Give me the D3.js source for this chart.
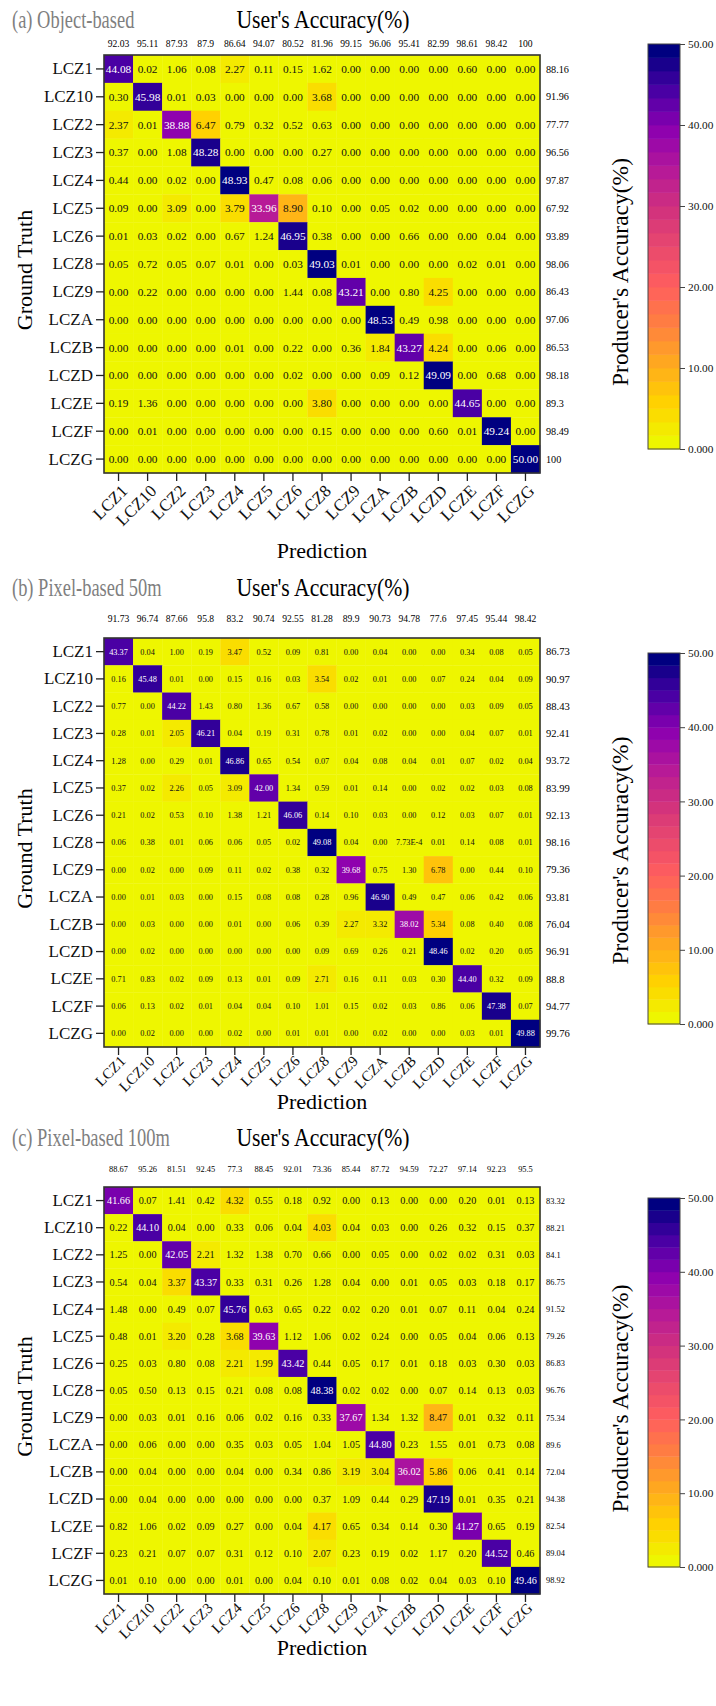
<!DOCTYPE html>
<html><head><meta charset="utf-8">
<script src="https://cdn.jsdelivr.net/npm/d3@7/dist/d3.min.js"></script>
<style>
html,body{margin:0;padding:0;background:#fff;}
text{font-family:"Liberation Serif","Times New Roman",serif;}
</style></head>
<body><svg id="chart" width="716" height="1706"></svg>
<script>
const categories = ["LCZ1","LCZ10","LCZ2","LCZ3","LCZ4","LCZ5","LCZ6","LCZ8","LCZ9","LCZA","LCZB","LCZD","LCZE","LCZF","LCZG"];
const panelTitles = ["(a) Object-based","(b) Pixel-based 50m","(c) Pixel-based 100m"];
const colorbarTicks = [0,10,20,30,40,50];
const colorbarTickLabels = ["0.000","10.00","20.00","30.00","40.00","50.00"];

const matrixA = [
[44.08,0.02,1.06,0.08,2.27,0.11,0.15,1.62,0.00,0.00,0.00,0.00,0.60,0.00,0.00],
[0.30,45.98,0.01,0.03,0.00,0.00,0.00,3.68,0.00,0.00,0.00,0.00,0.00,0.00,0.00],
[2.37,0.01,38.88,6.47,0.79,0.32,0.52,0.63,0.00,0.00,0.00,0.00,0.00,0.00,0.00],
[0.37,0.00,1.08,48.28,0.00,0.00,0.00,0.27,0.00,0.00,0.00,0.00,0.00,0.00,0.00],
[0.44,0.00,0.02,0.00,48.93,0.47,0.08,0.06,0.00,0.00,0.00,0.00,0.00,0.00,0.00],
[0.09,0.00,3.09,0.00,3.79,33.96,8.90,0.10,0.00,0.05,0.02,0.00,0.00,0.00,0.00],
[0.01,0.03,0.02,0.00,0.67,1.24,46.95,0.38,0.00,0.00,0.66,0.00,0.00,0.04,0.00],
[0.05,0.72,0.05,0.07,0.01,0.00,0.03,49.03,0.01,0.00,0.00,0.00,0.02,0.01,0.00],
[0.00,0.22,0.00,0.00,0.00,0.00,1.44,0.08,43.21,0.00,0.80,4.25,0.00,0.00,0.00],
[0.00,0.00,0.00,0.00,0.00,0.00,0.00,0.00,0.00,48.53,0.49,0.98,0.00,0.00,0.00],
[0.00,0.00,0.00,0.00,0.01,0.00,0.22,0.00,0.36,1.84,43.27,4.24,0.00,0.06,0.00],
[0.00,0.00,0.00,0.00,0.00,0.00,0.02,0.00,0.00,0.09,0.12,49.09,0.00,0.68,0.00],
[0.19,1.36,0.00,0.00,0.00,0.00,0.00,3.80,0.00,0.00,0.00,0.00,44.65,0.00,0.00],
[0.00,0.01,0.00,0.00,0.00,0.00,0.00,0.15,0.00,0.00,0.00,0.60,0.01,49.24,0.00],
[0.00,0.00,0.00,0.00,0.00,0.00,0.00,0.00,0.00,0.00,0.00,0.00,0.00,0.00,50.00]];
const usersAccA = [92.03,95.11,87.93,87.9,86.64,94.07,80.52,81.96,99.15,96.06,95.41,82.99,98.61,98.42,100];
const producersAccA = [88.16,91.96,77.77,96.56,97.87,67.92,93.89,98.06,86.43,97.06,86.53,98.18,89.3,98.49,100];

const matrixB = [
[43.37,0.04,1.00,0.19,3.47,0.52,0.09,0.81,0.00,0.04,0.00,0.00,0.34,0.08,0.05],
[0.16,45.48,0.01,0.00,0.15,0.16,0.03,3.54,0.02,0.01,0.00,0.07,0.24,0.04,0.09],
[0.77,0.00,44.22,1.43,0.80,1.36,0.67,0.58,0.00,0.00,0.00,0.00,0.03,0.09,0.05],
[0.28,0.01,2.05,46.21,0.04,0.19,0.31,0.78,0.01,0.02,0.00,0.00,0.04,0.07,0.01],
[1.28,0.00,0.29,0.01,46.86,0.65,0.54,0.07,0.04,0.08,0.04,0.01,0.07,0.02,0.04],
[0.37,0.02,2.26,0.05,3.09,42.00,1.34,0.59,0.01,0.14,0.00,0.02,0.02,0.03,0.08],
[0.21,0.02,0.53,0.10,1.38,1.21,46.06,0.14,0.10,0.03,0.00,0.12,0.03,0.07,0.01],
[0.06,0.38,0.01,0.06,0.06,0.05,0.02,49.08,0.04,0.00,0.000773,0.01,0.14,0.08,0.01],
[0.00,0.02,0.00,0.09,0.11,0.02,0.38,0.32,39.68,0.75,1.30,6.78,0.00,0.44,0.10],
[0.00,0.01,0.03,0.00,0.15,0.08,0.08,0.28,0.96,46.90,0.49,0.47,0.06,0.42,0.06],
[0.00,0.03,0.00,0.00,0.01,0.00,0.06,0.39,2.27,3.32,38.02,5.34,0.08,0.40,0.08],
[0.00,0.02,0.00,0.00,0.00,0.00,0.00,0.09,0.69,0.26,0.21,48.46,0.02,0.20,0.05],
[0.71,0.83,0.02,0.09,0.13,0.01,0.09,2.71,0.16,0.11,0.03,0.30,44.40,0.32,0.09],
[0.06,0.13,0.02,0.01,0.04,0.04,0.10,1.01,0.15,0.02,0.03,0.86,0.06,47.38,0.07],
[0.00,0.02,0.00,0.00,0.02,0.00,0.01,0.01,0.00,0.02,0.00,0.00,0.03,0.01,49.88]];
const usersAccB = [91.73,96.74,87.66,95.8,83.2,90.74,92.55,81.28,89.9,90.73,94.78,77.6,97.45,95.44,98.42];
const producersAccB = [86.73,90.97,88.43,92.41,93.72,83.99,92.13,98.16,79.36,93.81,76.04,96.91,88.8,94.77,99.76];

const matrixC = [
[41.66,0.07,1.41,0.42,4.32,0.55,0.18,0.92,0.00,0.13,0.00,0.00,0.20,0.01,0.13],
[0.22,44.10,0.04,0.00,0.33,0.06,0.04,4.03,0.04,0.03,0.00,0.26,0.32,0.15,0.37],
[1.25,0.00,42.05,2.21,1.32,1.38,0.70,0.66,0.00,0.05,0.00,0.02,0.02,0.31,0.03],
[0.54,0.04,3.37,43.37,0.33,0.31,0.26,1.28,0.04,0.00,0.01,0.05,0.03,0.18,0.17],
[1.48,0.00,0.49,0.07,45.76,0.63,0.65,0.22,0.02,0.20,0.01,0.07,0.11,0.04,0.24],
[0.48,0.01,3.20,0.28,3.68,39.63,1.12,1.06,0.02,0.24,0.00,0.05,0.04,0.06,0.13],
[0.25,0.03,0.80,0.08,2.21,1.99,43.42,0.44,0.05,0.17,0.01,0.18,0.03,0.30,0.03],
[0.05,0.50,0.13,0.15,0.21,0.08,0.08,48.38,0.02,0.02,0.00,0.07,0.14,0.13,0.03],
[0.00,0.03,0.01,0.16,0.06,0.02,0.16,0.33,37.67,1.34,1.32,8.47,0.01,0.32,0.11],
[0.00,0.06,0.00,0.00,0.35,0.03,0.05,1.04,1.05,44.80,0.23,1.55,0.01,0.73,0.08],
[0.00,0.04,0.00,0.00,0.04,0.00,0.34,0.86,3.19,3.04,36.02,5.86,0.06,0.41,0.14],
[0.00,0.04,0.00,0.00,0.00,0.00,0.00,0.37,1.09,0.44,0.29,47.19,0.01,0.35,0.21],
[0.82,1.06,0.02,0.09,0.27,0.00,0.04,4.17,0.65,0.34,0.14,0.30,41.27,0.65,0.19],
[0.23,0.21,0.07,0.07,0.31,0.12,0.10,2.07,0.23,0.19,0.02,1.17,0.20,44.52,0.46],
[0.01,0.10,0.00,0.00,0.01,0.00,0.04,0.10,0.01,0.08,0.02,0.04,0.03,0.10,49.46]];
const usersAccC = [88.67,95.26,81.51,92.45,77.3,88.45,92.01,73.36,85.44,87.72,94.59,72.27,97.14,92.23,95.5];
const producersAccC = [83.32,88.21,84.1,86.75,91.52,79.26,86.83,96.76,75.34,89.6,72.04,94.38,82.54,89.04,98.92];

// ---------- colour map (stepped) ----------
const NB = 30, VMAX = 50;
const paletteColors = ["#eef600","#ffd200","#ffaa1e","#ff8040","#ff5e5e","#e8486e","#d0307e","#b4189a","#8c00b0","#4800a4","#000080"];
const palette = d3.scaleLinear().domain(d3.range(paletteColors.length).map(i=>i/(paletteColors.length-1))).range(paletteColors).interpolate(d3.interpolateRgb);
const bandOf = v => Math.max(0, Math.min(NB-1, Math.floor(v/VMAX*NB)));
const colorOf = v => palette(bandOf(v)/(NB-1));
const fmtCell = v => (v > 0 && v < 0.005) ? d3.format(".2e")(v).toUpperCase().replace(/E-0*/,"E-") : d3.format(".2f")(v);

const svg = d3.select("#chart");
const X0 = 104, X1 = 540;
const panels = [
  {m: matrixA, ua: usersAccA, pa: producersAccA, top: 55, H: 418, uaY: 44, titleY: 28, predGap: 85,
   tickF: 17, tickT: "translate(10,19) rotate(-45)", cb: [44, 449], cell: 11.3, uaF: 9.6, paF: 10.2},
  {m: matrixB, ua: usersAccB, pa: producersAccB, top: 638, H: 409, uaY: 619, titleY: 596, predGap: 62,
   tickF: 15, tickT: "translate(8,15) rotate(-45)", cb: [653, 1024], cell: 8.3, uaF: 9.6, paF: 10.6},
  {m: matrixC, ua: usersAccC, pa: producersAccC, top: 1187, H: 407, uaY: 1169, titleY: 1146, predGap: 61,
   tickF: 15, tickT: "translate(8,15) rotate(-45)", cb: [1198, 1567], cell: 10.2, uaF: 8.4, paF: 8.4}
];

panels.forEach((p, pi) => {
  const top = p.top, H = p.H;
  const g = svg.append("g");
  const x = d3.scaleBand().domain(categories).range([X0, X1]);
  const y = d3.scaleBand().domain(categories).range([top, top + H]);

  // titles
  g.append("text").attr("transform", `translate(12,${p.titleY}) scale(0.71,1)`)
    .attr("font-size", 26).attr("fill", "#7f7f7f").text(panelTitles[pi]);
  g.append("text").attr("transform", `translate(${(X0+X1)/2+1},${p.titleY}) scale(0.835,1)`)
    .attr("font-size", 26).attr("text-anchor", "middle").attr("fill", "#000").text("User's Accuracy(%)");

  // cells
  const cells = [];
  p.m.forEach((row, ri) => row.forEach((v, ci) => cells.push({r: categories[ri], c: categories[ci], v})));
  g.selectAll("rect.cell").data(cells).join("rect").attr("class","cell")
    .attr("x", d => x(d.c)).attr("y", d => y(d.r))
    .attr("width", x.bandwidth()+0.3).attr("height", y.bandwidth()+0.3)
    .attr("fill", d => colorOf(d.v));
  g.selectAll("text.cell").data(cells).join("text").attr("class","cell")
    .attr("x", d => x(d.c) + x.bandwidth()/2).attr("y", d => y(d.r) + y.bandwidth()/2)
    .attr("dy", "0.35em").attr("text-anchor", "middle").attr("font-size", p.cell)
    .attr("fill", d => d.v > 30 ? "#fff" : "#111").text(d => fmtCell(d.v));

  // frame
  g.append("rect").attr("x", X0).attr("y", top).attr("width", X1-X0).attr("height", H)
    .attr("fill", "none").attr("stroke", "#333").attr("stroke-width", 1.6);

  // user's accuracy row
  g.selectAll("text.ua").data(p.ua).join("text").attr("class","ua")
    .attr("x", (d,i) => x(categories[i]) + x.bandwidth()/2).attr("y", p.uaY)
    .attr("dy","0.35em").attr("text-anchor","middle").attr("font-size", p.uaF).text(d => String(d));
  // producer's accuracy column
  g.selectAll("text.pa").data(p.pa).join("text").attr("class","pa")
    .attr("x", X1 + 6).attr("y", (d,i) => y(categories[i]) + y.bandwidth()/2)
    .attr("dy","0.35em").attr("font-size", p.paF).text(d => String(d));

  // axes
  const ax = g.append("g").attr("transform", `translate(0,${top+H})`)
    .call(d3.axisBottom(x).tickSize(8).tickSizeOuter(0));
  ax.select(".domain").remove();
  ax.selectAll(".tick line").attr("stroke", "#222").attr("stroke-width", 1.3);
  ax.selectAll(".tick text").attr("font-family", '"Liberation Serif","Times New Roman",serif')
    .attr("font-size", p.tickF).attr("fill", "#111").attr("text-anchor", "end")
    .attr("x", null).attr("y", null).attr("dy", null)
    .attr("transform", p.tickT);

  const ay = g.append("g").attr("transform", `translate(${X0},0)`)
    .call(d3.axisLeft(y).tickSize(8).tickSizeOuter(0));
  ay.select(".domain").remove();
  ay.selectAll(".tick line").attr("stroke", "#222").attr("stroke-width", 1.3);
  ay.selectAll(".tick text").attr("font-family", '"Liberation Serif","Times New Roman",serif')
    .attr("font-size", 17).attr("fill", "#111");

  // axis titles
  g.append("text").attr("x", (X0+X1)/2).attr("y", top + H + p.predGap).attr("text-anchor","middle")
    .attr("font-size", 22).text("Prediction");
  g.append("text").attr("transform", `translate(32,${top+H/2+6}) rotate(-90)`).attr("text-anchor","middle")
    .attr("font-size", 22).text("Ground Truth");
  g.append("text").attr("transform", `translate(628,${top+H/2+8}) rotate(-90)`).attr("text-anchor","middle")
    .attr("font-size", 23.5).text("Producer's Accuracy(%)");

  // colour bar
  const cbTop = p.cb[0], cbBot = p.cb[1], cbX = 648, cbW = 32;
  const cy = d3.scaleLinear().domain([0, VMAX]).range([cbBot, cbTop]);
  const bands = d3.range(NB);
  g.selectAll("rect.cb").data(bands).join("rect").attr("class","cb")
    .attr("x", cbX).attr("width", cbW)
    .attr("y", i => cy((i+1)*VMAX/NB)).attr("height", i => cy(i*VMAX/NB) - cy((i+1)*VMAX/NB) + 0.4)
    .attr("fill", i => palette(i/(NB-1)));
  g.append("rect").attr("x", cbX).attr("y", cbTop).attr("width", cbW).attr("height", cbBot-cbTop)
    .attr("fill","none").attr("stroke","#444").attr("stroke-width",1);
  const ac = g.append("g").attr("transform", `translate(${cbX+cbW},0)`)
    .call(d3.axisRight(cy).tickValues(colorbarTicks).tickSize(5).tickFormat((d,i) => colorbarTickLabels[i]));
  ac.select(".domain").remove();
  ac.selectAll(".tick line").attr("stroke","#444");
  ac.selectAll(".tick text").attr("font-family", '"Liberation Serif","Times New Roman",serif')
    .attr("font-size", 11.3).attr("fill","#111");
});
</script></body></html>
